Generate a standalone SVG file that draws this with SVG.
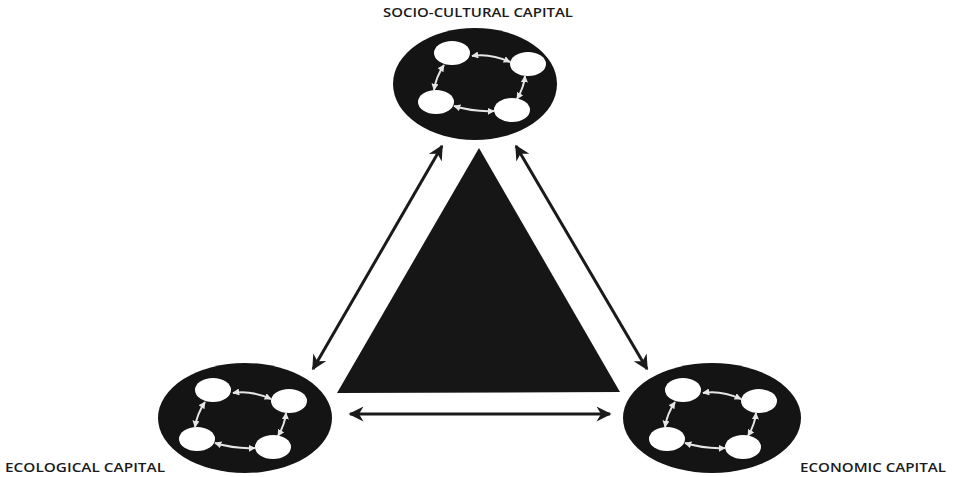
<svg xmlns="http://www.w3.org/2000/svg" width="957" height="477" viewBox="0 0 957 477">
<defs>
<style>
.lbl{font-family:"Open Sans","Liberation Sans",sans-serif;font-size:13px;font-weight:600;fill:#1a1a1a}
.big{fill:#141414}
.sm{fill:#fff}
.in{stroke:#e6e6e6;stroke-width:2;fill:none;marker-start:url(#wa);marker-end:url(#wa)}
.conn{stroke:#1a1a1a;stroke-width:3;fill:none;marker-start:url(#ba);marker-end:url(#ba)}
</style>
<marker id="ba" viewBox="0 0 10 10" refX="9" refY="5" markerWidth="6" markerHeight="5" orient="auto-start-reverse" markerUnits="strokeWidth">
<path d="M0,0 L10,5 L0,10 L3,5 Z" fill="#1a1a1a"/>
</marker>
<marker id="wa" viewBox="0 0 10 10" refX="9" refY="5" markerWidth="3.5" markerHeight="3.5" orient="auto-start-reverse" markerUnits="strokeWidth">
<path d="M0,0 L10,5 L0,10 Z" fill="#e6e6e6"/>
</marker>
<g id="cyc">
<path class="in" d="M20,3 Q38,0 58,9"/>
<path class="in" d="M73,23 Q72,34 65,46"/>
<path class="in" d="M2,53 Q22,59 42,58"/>
<path class="in" d="M-8,12 Q-16,24 -18,37"/>
<ellipse class="sm" cx="0" cy="0" rx="18" ry="12"/>
<ellipse class="sm" cx="76" cy="11" rx="18" ry="12"/>
<ellipse class="sm" cx="-16" cy="49" rx="18" ry="12"/>
<ellipse class="sm" cx="60" cy="57" rx="18" ry="12"/>
</g>
</defs>
<rect width="957" height="477" fill="#fff"/>
<g id="triangle">
<polygon points="479,148 620,392 337,393" fill="#161616"/>
</g>
<g id="connectors">
<line class="conn" x1="442" y1="146" x2="313" y2="369"/>
<line class="conn" x1="516" y1="146" x2="647" y2="369"/>
<line class="conn" x1="350" y1="414" x2="610" y2="414"/>
</g>
<g id="socio">
<ellipse class="big" cx="475" cy="84" rx="82" ry="56"/>
<use href="#cyc" x="452" y="53"/>
<text class="lbl" x="478" y="17" text-anchor="middle" textLength="190" lengthAdjust="spacingAndGlyphs">SOCIO-CULTURAL CAPITAL</text>
</g>
<g id="ecological">
<ellipse class="big" cx="245" cy="418" rx="87" ry="55"/>
<use href="#cyc" x="213" y="390"/>
<text class="lbl" x="5" y="472" textLength="160" lengthAdjust="spacingAndGlyphs">ECOLOGICAL CAPITAL</text>
</g>
<g id="economic">
<ellipse class="big" cx="712" cy="418" rx="89" ry="55"/>
<use href="#cyc" x="683" y="390"/>
<text class="lbl" x="800" y="472" textLength="146" lengthAdjust="spacingAndGlyphs">ECONOMIC CAPITAL</text>
</g>
</svg>
